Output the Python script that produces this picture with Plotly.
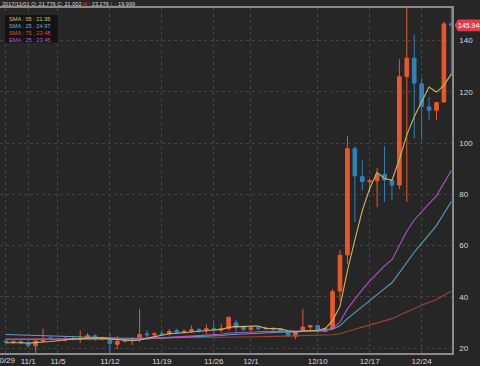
import plotly.graph_objects as go
import pandas as pd

dates = pd.date_range("2017-10-29", "2017-12-28", freq="D")

opens = [22.8, 22.3, 22.6, 21.776, 20.9, 22.8, 24.0, 23.5, 23.2, 23.8,
         23.4, 23.9, 24.8, 23.6, 23.7, 21.5, 22.7, 23.0, 23.5, 25.6,
         25.2, 25.6, 25.6, 26.9, 26.2, 26.5, 27.3, 26.9, 27.6, 27.1,
         27.6, 29.8, 28.2, 27.2, 28.0, 27.6, 27.8, 27.5, 26.3, 24.6,
         26.9, 28.2, 28.8, 26.5, 27.6, 42.3, 56.4, 97.8, 86.9, 84.9,
         85.3, 87.8, 85.3, 83.6, 126.0, 133.1, 123.1, 114.1, 112.8, 116.0,
         146.6]
highs = [23.8, 23.0, 23.1, 23.276, 23.0, 27.6, 24.5, 24.0, 24.8, 24.3,
         26.9, 25.9, 25.5, 24.5, 25.8, 24.6, 23.5, 24.4, 35.4, 27.0,
         26.3, 27.0, 27.5, 27.6, 27.2, 28.8, 27.8, 29.2, 30.5, 29.5,
         32.3, 31.0, 29.0, 28.6, 28.6, 28.2, 28.0, 27.9, 26.6, 26.4,
         35.4, 29.0, 29.2, 28.0, 43.0, 58.3, 102.8, 98.8, 93.2, 86.0,
         90.4, 98.8, 86.0, 132.7, 155.0, 142.3, 125.4, 118.0, 116.0, 147.4,
         156.0]
lows = [21.5, 21.6, 21.5, 19.999, 18.0, 22.3, 23.0, 22.8, 22.6, 23.0,
        22.0, 23.5, 22.8, 22.9, 17.5, 19.6, 22.2, 21.2, 22.4, 24.0,
        24.5, 24.8, 25.0, 25.6, 25.6, 26.0, 26.1, 25.5, 25.0, 26.0,
        27.0, 25.5, 26.5, 26.8, 27.0, 27.0, 26.6, 26.2, 24.4, 23.5,
        26.5, 27.2, 26.0, 26.2, 27.0, 38.5, 52.7, 69.2, 81.5, 80.8,
        75.0, 77.0, 77.7, 82.0, 77.0, 101.9, 101.3, 109.0, 109.0, 115.8,
        126.2]
closes = [22.3, 22.6, 22.0, 21.002, 22.8, 23.5, 23.5, 23.6, 23.8, 23.4,
          23.9, 24.9, 23.6, 24.0, 21.8, 22.7, 23.0, 23.2, 25.3, 25.2,
          25.6, 25.5, 26.5, 26.2, 26.6, 27.3, 26.9, 27.6, 27.1, 27.6,
          32.0, 28.0, 27.3, 28.0, 27.6, 27.8, 27.5, 26.4, 24.6, 26.3,
          28.2, 28.8, 26.9, 27.6, 42.0, 56.2, 97.8, 87.2, 85.0, 85.3,
          87.8, 85.6, 83.6, 125.9, 133.1, 123.4, 114.3, 112.8, 115.8, 146.5,
          145.946]

sma5 = [22.1, 22.2, 22.1, 21.95, 22.1, 22.4, 22.6, 22.9, 23.4, 23.6,
        23.6, 23.9, 23.9, 24.0, 23.6, 23.4, 23.0, 22.9, 23.2, 23.9,
        24.5, 25.0, 25.6, 25.8, 26.1, 26.4, 26.7, 26.9, 27.1, 27.3,
        28.1, 28.5, 28.4, 28.6, 28.6, 27.7, 27.6, 27.5, 26.8, 26.5,
        26.7, 26.9, 27.0, 27.6, 30.7, 36.3, 50.1, 62.2, 73.6, 82.3,
        88.6, 86.2, 85.5, 93.6, 103.2, 110.3, 116.0, 121.9, 119.9, 122.5,
        127.0]
sma25 = [25.3, 25.2, 25.1, 24.97, 24.85, 24.7, 24.6, 24.5, 24.4, 24.3,
         24.2, 24.1, 24.0, 23.9, 23.8, 23.7, 23.65, 23.6, 23.65, 23.7,
         23.8, 23.9, 24.0, 24.1, 24.2, 24.35, 24.5, 24.6, 24.75, 24.9,
         25.2, 25.4, 25.5, 25.7, 25.85, 26.0, 26.1, 26.2, 26.2, 26.3,
         26.5, 26.7, 26.8, 26.9, 27.5, 28.7, 31.5, 33.9, 36.2, 38.5,
         40.9, 43.2, 45.5, 49.4, 53.6, 57.4, 60.9, 64.3, 67.8, 72.5,
         77.2]
sma75 = [23.3, 23.35, 23.42, 23.48, 23.5, 23.52, 23.55, 23.57, 23.6, 23.62,
         23.65, 23.67, 23.7, 23.72, 23.74, 23.76, 23.78, 23.8, 23.83, 23.86,
         23.89, 23.92, 23.95, 23.98, 24.0, 24.03, 24.06, 24.1, 24.13, 24.17,
         24.22, 24.27, 24.32, 24.37, 24.42, 24.47, 24.52, 24.57, 24.62, 24.67,
         24.72, 24.8, 24.9, 25.0, 25.2, 25.6, 26.6, 27.4, 28.2, 29.0,
         29.9, 30.7, 31.5, 32.8, 34.2, 35.5, 36.7, 37.8, 39.0, 40.6,
         42.2]
ema25 = [23.5, 23.48, 23.47, 23.45, 23.4, 23.41, 23.42, 23.43, 23.45, 23.45,
         23.46, 23.5, 23.51, 23.55, 23.45, 23.4, 23.38, 23.37, 23.52, 23.65,
         23.8, 23.94, 24.14, 24.3, 24.47, 24.69, 24.86, 25.07, 25.22, 25.4,
         25.91, 26.08, 26.17, 26.29, 26.37, 26.45, 26.49, 26.48, 26.33, 26.33,
         26.47, 26.65, 26.67, 26.74, 27.9, 30.1, 35.3, 39.3, 42.8, 46.1,
         49.3, 52.1, 54.5, 60.0, 65.6, 70.0, 73.4, 76.4, 79.4, 84.6,
         89.3]

xtick_vals = ["2017-10-29", "2017-11-01", "2017-11-05", "2017-11-12", "2017-11-19",
              "2017-11-26", "2017-12-01", "2017-12-10", "2017-12-17", "2017-12-24"]
xtick_text = ["10/29", "11/1", "11/5", "11/12", "11/19", "11/26", "12/1", "12/10", "12/17", "12/24"]
ytick_vals = [20, 40, 60, 80, 100, 120, 140]

last_price = 145.946
header_date = "2017/11/01"
header_vals = [21.776, 21.002, 23.276, 19.999]
legend_rows = [("SMA : 05 : 21.95", "#d9c25c"),
               ("SMA : 25 : 24.97", "#5fb2e0"),
               ("SMA : 75 : 23.48", "#d4553c"),
               ("EMA : 25 : 23.45", "#c455d6")]

UP = "#e8592a"
DOWN = "#2e82b8"
BG = "#262626"
TICKC = "#d8d8d8"

fig = go.Figure()
fig.add_trace(go.Candlestick(
    x=dates, open=opens, high=highs, low=lows, close=closes,
    increasing=dict(line=dict(color=UP, width=1), fillcolor=UP),
    decreasing=dict(line=dict(color=DOWN, width=1), fillcolor=DOWN),
    whiskerwidth=0, hoverinfo="skip"))
fig.add_trace(go.Scatter(x=dates, y=sma75, mode="lines", line=dict(color="#9c4433", width=1.1)))
fig.add_trace(go.Scatter(x=dates, y=sma25, mode="lines", line=dict(color="#5a9ec4", width=1.1)))
fig.add_trace(go.Scatter(x=dates, y=ema25, mode="lines", line=dict(color="#b251c8", width=1.1)))
fig.add_trace(go.Scatter(x=dates, y=sma5, mode="lines", line=dict(color="#cbb45e", width=1.1)))

fig.update_layout(
    width=480, height=366,
    margin=dict(l=0, r=28, t=8, b=8),
    paper_bgcolor=BG, plot_bgcolor=BG,
    showlegend=False,
    font=dict(family="Liberation Sans, Arial, sans-serif", color="#d0d0d0", size=8),
    xaxis=dict(
        type="date",
        range=["2017-10-28 04:40", "2017-12-28 02:10"],
        tickvals=xtick_vals, ticktext=[""] + xtick_text[1:],
        showgrid=True, gridcolor="#444444", griddash="dot", gridwidth=1,
        showline=True, linecolor="#8a8a8a", linewidth=1.5, mirror=True,
        ticks="", zeroline=False, rangeslider=dict(visible=False),
        tickfont=dict(size=8, color=TICKC),
    ),
    yaxis=dict(
        side="right", range=[18.1, 152.7],
        tickvals=ytick_vals,
        showgrid=True, gridcolor="#444444", griddash="dot", gridwidth=1,
        showline=True, linecolor="#8a8a8a", linewidth=1.5,
        ticks="", zeroline=False, ticklabelstandoff=4,
        tickfont=dict(size=8, color=TICKC),
    ),
)

# first x label (partly cut at the left edge, as in the reference)
fig.add_annotation(text=xtick_text[0], xref="x", yref="paper", x=xtick_vals[0], y=0,
                   xanchor="center", yanchor="top", showarrow=False, yshift=-1,
                   font=dict(size=8, color=TICKC))

# header line
o, c, h, l = header_vals
header = (f"{header_date} O: {o:.3f} C: {c:.3f} "
          f"<span style='color:#e0453f'>H</span> : {h:.3f} "
          f"<span style='color:#3d94d6'>L</span> : {l:.3f}")
fig.add_annotation(text=header, xref="paper", yref="paper", x=0.0, y=1.0,
                   xanchor="left", yanchor="bottom", showarrow=False,
                   font=dict(size=5.6, color="#d8d8d8"), xshift=0, yshift=-1)

# MA legend box
fig.add_shape(type="rect", xref="paper", yref="paper",
              x0=5 / 452, x1=58 / 452, y0=(358 - 43) / 350, y1=(358 - 15) / 350,
              fillcolor="#131313", line=dict(width=0), layer="above")
for i, (txt, col) in enumerate(legend_rows):
    yc = 19.5 + 7 * i
    fig.add_annotation(text=txt, xref="paper", yref="paper",
                       x=7 / 452, y=(358 - yc) / 350, xanchor="left", yanchor="middle",
                       showarrow=False, font=dict(size=5.6, color=col))

# last price tag
fig.add_shape(type="path", xref="paper", yref="y",
              path=f"M 1.006 {last_price} L 1.013 {last_price + 2.3} L 1.08 {last_price + 2.3} "
                   f"L 1.08 {last_price - 2.3} L 1.013 {last_price - 2.3} Z",
              fillcolor="#e03c4a", line=dict(width=0), layer="above")
fig.add_annotation(text=f"{last_price:.3f}", xref="paper", yref="y", x=1.0095, y=last_price,
                   xanchor="left", yanchor="middle", showarrow=False,
                   font=dict(size=7, color="#ffffff"))

fig.write_html("out.html", config={"displayModeBar": False},
               post_script="document.body.style.margin='0';document.body.style.overflow='hidden';")
